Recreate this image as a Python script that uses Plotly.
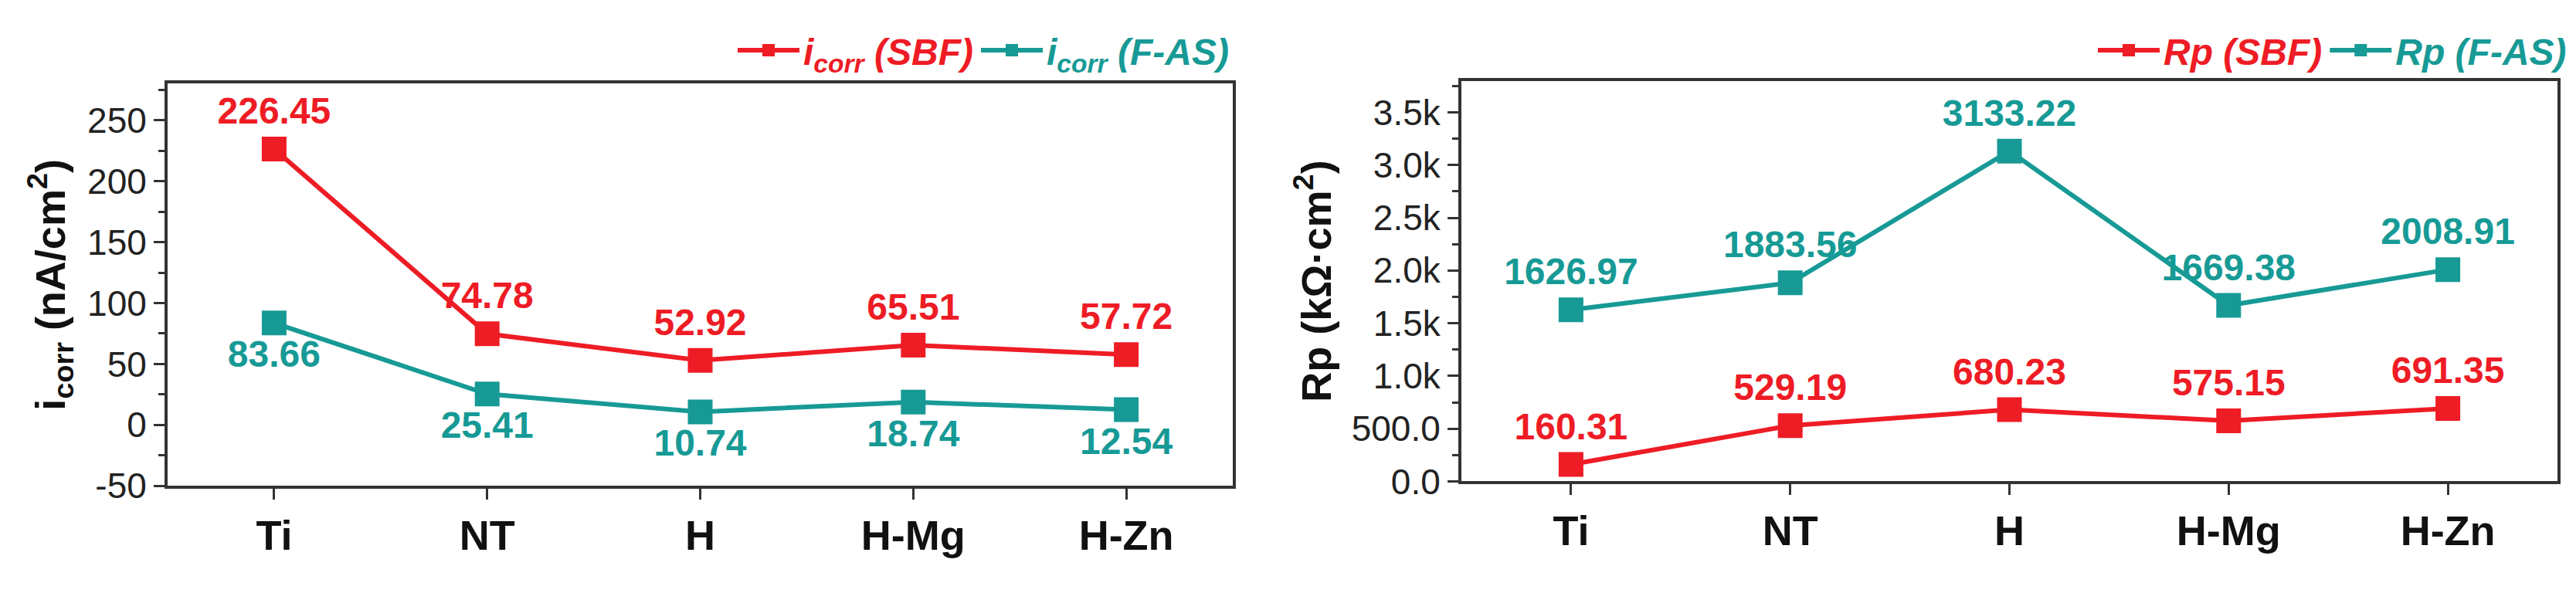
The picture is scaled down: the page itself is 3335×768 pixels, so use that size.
import plotly.graph_objects as go

categories = ["Ti", "NT", "H", "H-Mg", "H-Zn"]
icorr_sbf = [226.45, 74.78, 52.92, 65.51, 57.72]
icorr_fas = [83.66, 25.41, 10.74, 18.74, 12.54]
rp_sbf = [160.31, 529.19, 680.23, 575.15, 691.35]
rp_fas = [1626.97, 1883.56, 3133.22, 1669.38, 2008.91]
left_ticks = [-50, 0, 50, 100, 150, 200, 250]
left_ticktext = ["-50", "0", "50", "100", "150", "200", "250"]
right_ticks = [0, 500, 1000, 1500, 2000, 2500, 3000, 3500]
right_ticktext = ["0.0", "500.0", "1.0k", "1.5k", "2.0k", "2.5k", "3.0k", "3.5k"]

RED = "#ee1c25"
TEAL = "#179a96"
W, H = 3335, 768
FONT = "Liberation Sans"

fig = go.Figure()
x = list(range(len(categories)))

def add(xa, ya, y, color, name, pos, leg):
    fig.add_trace(go.Scatter(
        x=x, y=y, xaxis=xa, yaxis=ya, mode="lines+markers+text",
        name=f"<span style='color:{color}'>{name}</span>", legend=leg,
        line=dict(color=color, width=6),
        marker=dict(symbol="square", size=32, color=color),
        text=[f"{v:.2f}" for v in y], textposition=pos,
        textfont=dict(color=color, size=48, family=FONT, weight="bold"),
    ))

add("x", "y", icorr_sbf, RED, "<i>i<sub>corr</sub> (SBF)</i>", "top center", "legend")
add("x", "y", icorr_fas, TEAL, "<i>i<sub>corr</sub> (F-AS)</i>", "bottom center", "legend")
add("x2", "y2", rp_sbf, RED, "<i>Rp (SBF)</i>", "top center", "legend2")
add("x2", "y2", rp_fas, TEAL, "<i>Rp (F-AS)</i>", "top center", "legend2")

axcommon = dict(showline=True, linecolor="#333", linewidth=4, mirror=True,
                ticks="outside", ticklen=14, tickwidth=3, tickcolor="#333",
                showgrid=False, zeroline=False)
xcommon = dict(axcommon, tickvals=x, ticktext=categories, range=[-0.5, 4.5],
               tickfont=dict(size=54, family=FONT, weight="bold", color="#111"))

fig.update_layout(
    width=W, height=H, plot_bgcolor="white", paper_bgcolor="white",
    margin=dict(l=0, r=0, t=0, b=0),
    xaxis=dict(xcommon, domain=[209 / W, 1588 / W], anchor="y"),
    xaxis2=dict(xcommon, domain=[1884 / W, 3303 / W], anchor="y2"),
    yaxis=dict(axcommon, domain=[1 - 643 / H, 1 - 104 / H], range=[-50, 280],
               tickvals=left_ticks, ticktext=left_ticktext,
               minor=dict(dtick=25, ticks="outside", ticklen=8, tickcolor="#333"),
               tickfont=dict(size=46, family=FONT, color="#222"),
               title=dict(text="<b>i<sub>corr</sub> (nA/cm<sup>2</sup>)</b>", standoff=12,
                          font=dict(size=54, family=FONT, color="#111"))),
    yaxis2=dict(axcommon, domain=[1 - 637 / H, 1 - 100 / H], range=[0, 3800],
                tickvals=right_ticks, ticktext=right_ticktext,
                minor=dict(dtick=250, ticks="outside", ticklen=8, tickcolor="#333"),
                tickfont=dict(size=46, family=FONT, color="#222"), anchor="x2",
                title=dict(text="<b>Rp (kΩ·cm<sup>2</sup>)</b>", standoff=10,
                           font=dict(size=54, family=FONT, color="#111"))),
    legend=dict(orientation="h", x=1588 / W, xanchor="right", y=1 - 20 / H, yanchor="top",
                font=dict(size=48, family=FONT, weight="bold"), bgcolor="rgba(0,0,0,0)",
                itemwidth=80),
    legend2=dict(orientation="h", x=3320 / W, xanchor="right", y=1 - 20 / H, yanchor="top",
                 font=dict(size=48, family=FONT, weight="bold"), bgcolor="rgba(0,0,0,0)",
                 itemwidth=80),
)
fig.write_html("out.html")
